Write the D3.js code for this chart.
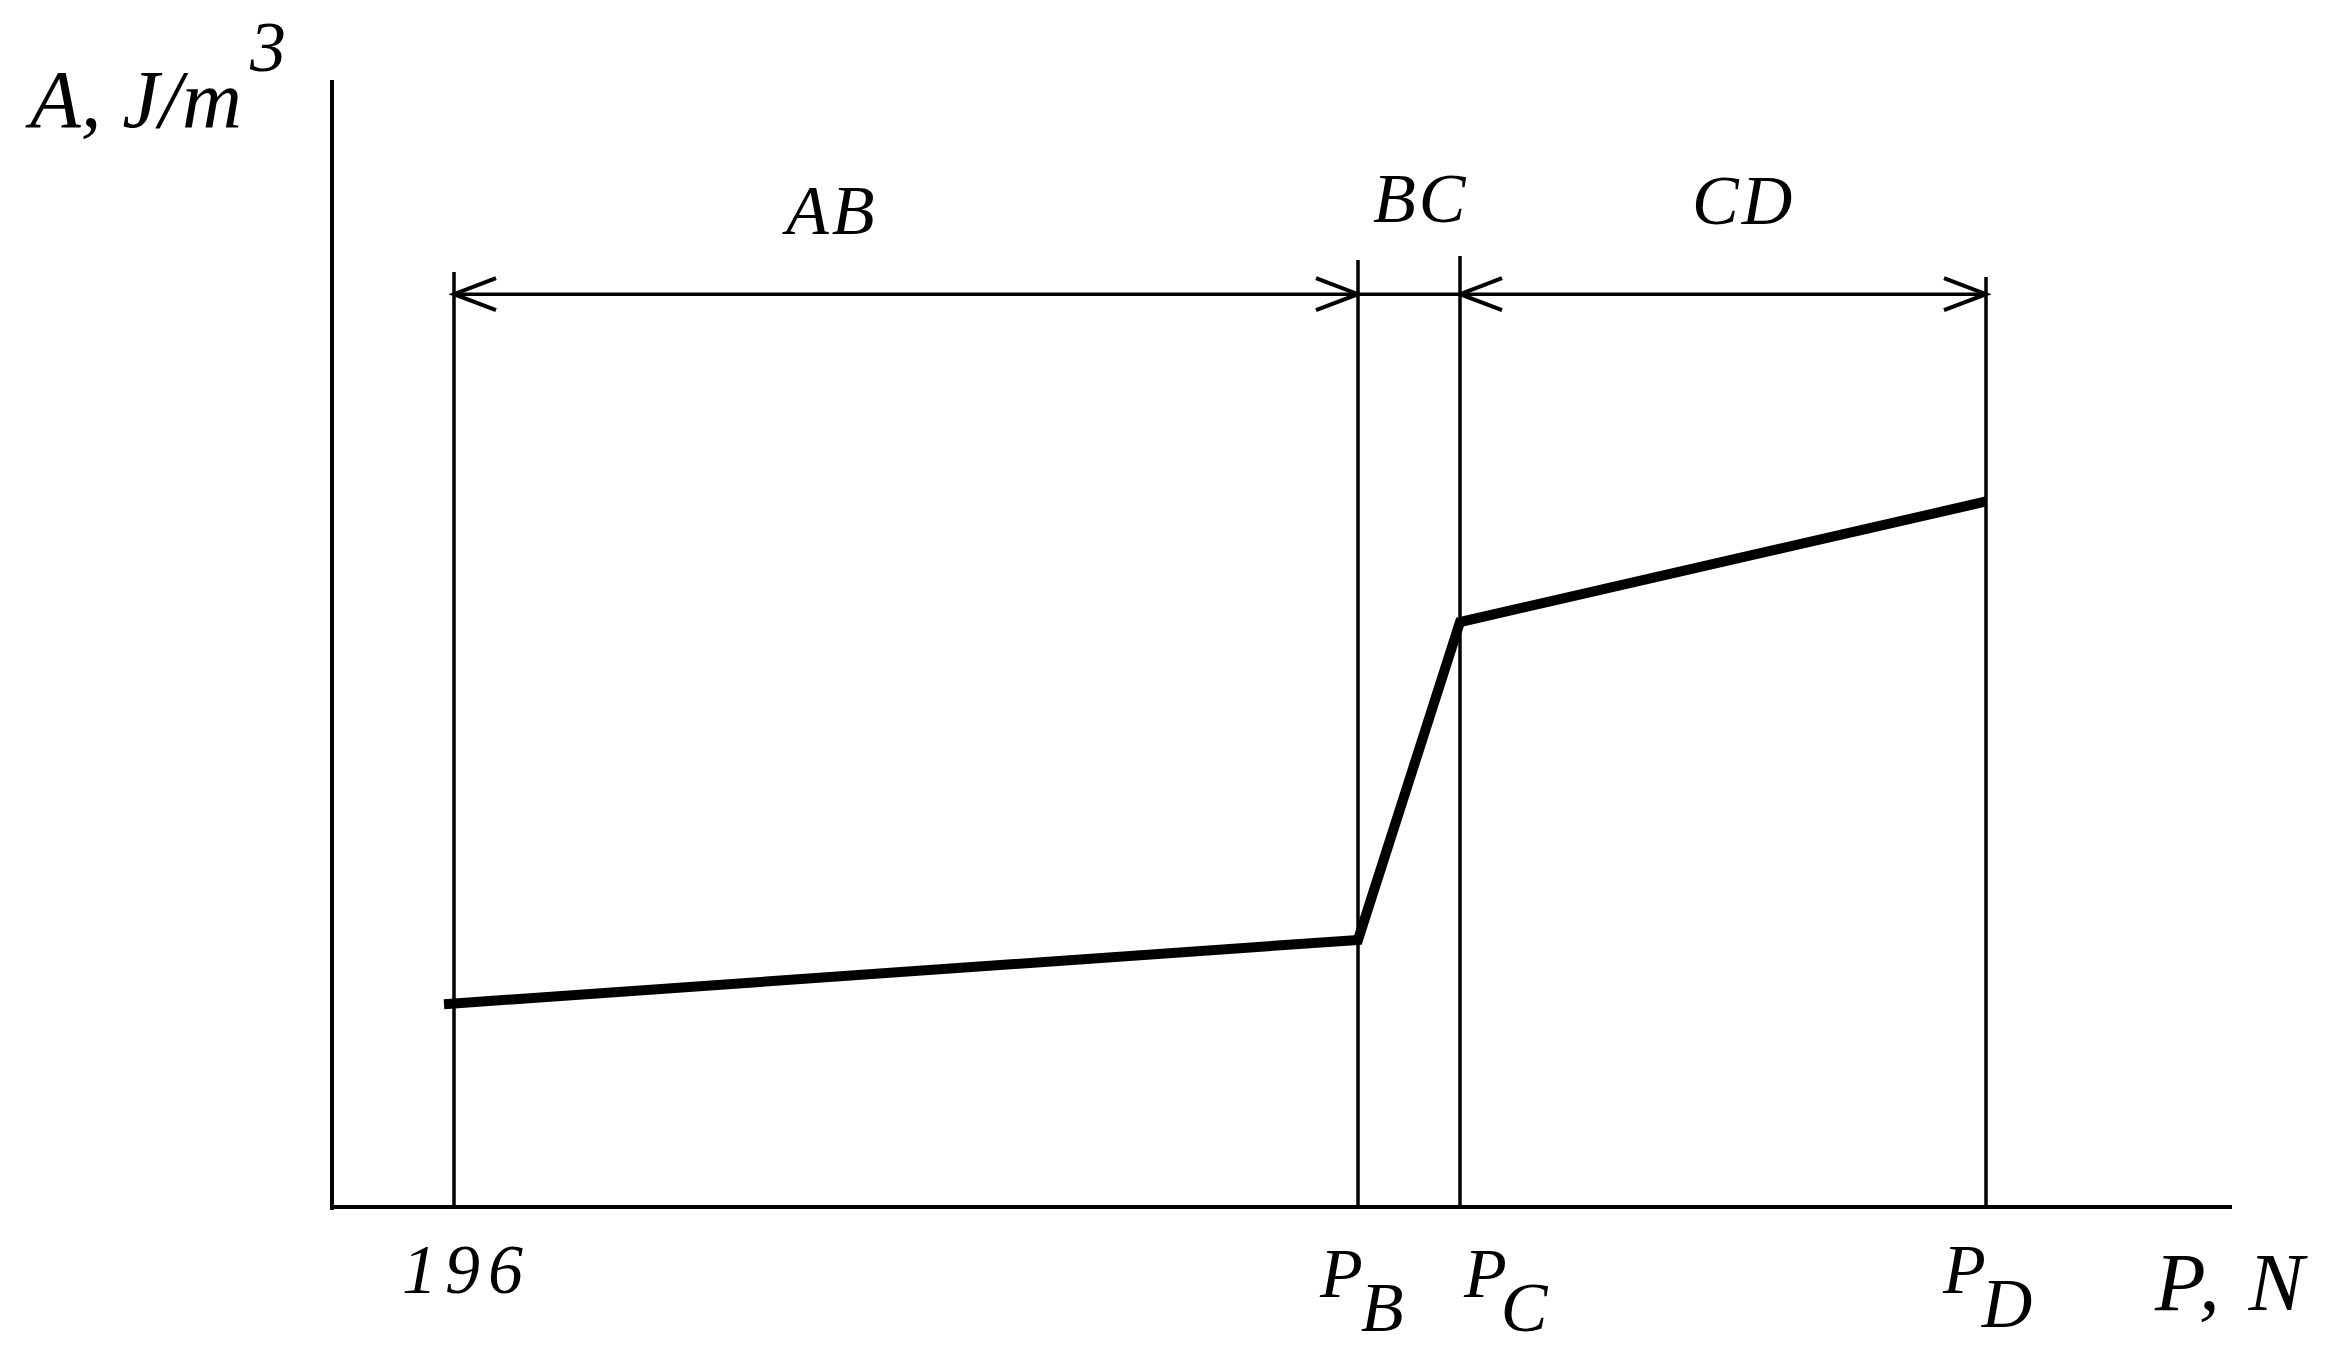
<!DOCTYPE html>
<html><head><meta charset="utf-8">
<script src="https://cdn.jsdelivr.net/npm/d3@7"></script>
<style>
html,body{margin:0;padding:0;background:#fff;}
svg{display:block;}
</style></head>
<body>
<svg id="chart" width="2339" height="1358"></svg>
<script>
// Data (arbitrary units)
const pointNames = ["196", "P_B", "P_C", "P_D"];
const pointP = [196, 648, 699, 962];          // load P (N, estimated positions)
const pointA = [18.0, 23.7, 51.9, 62.6];       // specific work A (relative units)
const segmentNames = ["AB", "BC", "CD"];
const xDomain = [135, 1085];
const yDomain = [0, 100];
const dimLevel = 81;                            // level of the dimension line

const FONT = "Liberation Serif";
const svg = d3.select("#chart");
const x = d3.scaleLinear().domain(xDomain).range([332, 2232]);
const y = d3.scaleLinear().domain(yDomain).range([1207, 80]);

// axes (plain lines, no ticks)
svg.append("line").attr("x1", x(xDomain[0])).attr("x2", x(xDomain[0]))
  .attr("y1", y(yDomain[0]) + 3).attr("y2", y(yDomain[1]))
  .attr("stroke", "#000").attr("stroke-width", 4);
svg.append("line").attr("x1", x(xDomain[0])).attr("x2", x(xDomain[1]))
  .attr("y1", y(0)).attr("y2", y(0))
  .attr("stroke", "#000").attr("stroke-width", 4);

// extension lines
const extTop = [272, 260, 256, 277];
svg.selectAll("line.ext").data(pointP).join("line").attr("class", "ext")
  .attr("x1", d => x(d)).attr("x2", d => x(d))
  .attr("y1", (d, i) => extTop[i]).attr("y2", y(0))
  .attr("stroke", "#000").attr("stroke-width", 3.5);

// dimension lines with open arrowheads
const yd = y(dimLevel);
svg.append("line").attr("x1", x(pointP[0])).attr("x2", x(pointP[3]))
  .attr("y1", yd).attr("y2", yd).attr("stroke", "#000").attr("stroke-width", 3.5);
function arrow(px, dir) { // dir=+1 arrow pointing right, -1 pointing left
  const L = 42, H = 16;
  svg.append("path")
    .attr("d", `M${px - dir * L},${yd - H}L${px},${yd}L${px - dir * L},${yd + H}`)
    .attr("fill", "none").attr("stroke", "#000").attr("stroke-width", 4);
}
arrow(x(pointP[0]), -1);
arrow(x(pointP[1]), 1);
arrow(x(pointP[2]), -1);
arrow(x(pointP[3]), 1);

// data line
const line = d3.line().x(d => x(d[0])).y(d => y(d[1]));
const pts = pointP.map((p, i) => [p, pointA[i]]);
pts[0] = [pointP[0] - 5, pointA[0]];
svg.append("path").datum(pts).attr("d", line)
  .attr("fill", "none").attr("stroke", "#000").attr("stroke-width", 10)
  .attr("stroke-linejoin", "miter");

function txt(sel) {
  return sel.attr("font-family", FONT).attr("font-style", "italic").attr("fill", "#000");
}

// segment labels
const segX = [x(pointP[0]) + 332, x(pointP[1]) + 15, x(pointP[2]) + 232];
const segY = [234, 222, 224];
txt(svg.selectAll("text.seg").data(segmentNames).join("text").attr("class", "seg"))
  .attr("x", (d, i) => segX[i]).attr("y", (d, i) => segY[i])
  .attr("font-size", 70).attr("letter-spacing", 3).text(d => d);

// x tick labels
const lab = svg.append("g");
txt(lab.append("text")).attr("x", x(pointP[0]) - 52).attr("y", 1293)
  .attr("font-size", 70).attr("letter-spacing", 8).text(pointNames[0]);
const subOff = [[-38, 2], [4, 43], [-43, -6]];
const subDx = [-2, -6, -4];
[1, 2, 3].forEach((k, j) => {
  const name = pointNames[k].split("_");
  const t = txt(lab.append("text")).attr("x", x(pointP[k]) + subOff[j][0])
    .attr("y", k === 3 ? 1293 : 1297).attr("font-size", 70);
  t.append("tspan").text(name[0]);
  t.append("tspan").attr("dy", 34).attr("dx", subDx[j]).text(name[1]);
});

// axis titles
const yt = txt(svg.append("text")).attr("x", 30).attr("y", 127).attr("font-size", 83);
yt.append("tspan").text("A, J/m");
yt.append("tspan").attr("dx", 8).attr("dy", -56).attr("font-size", 72).text("3");
txt(svg.append("text")).attr("x", 2155).attr("y", 1310).attr("font-size", 83)
  .attr("letter-spacing", 4).text("P, N");
</script>
</body></html>
